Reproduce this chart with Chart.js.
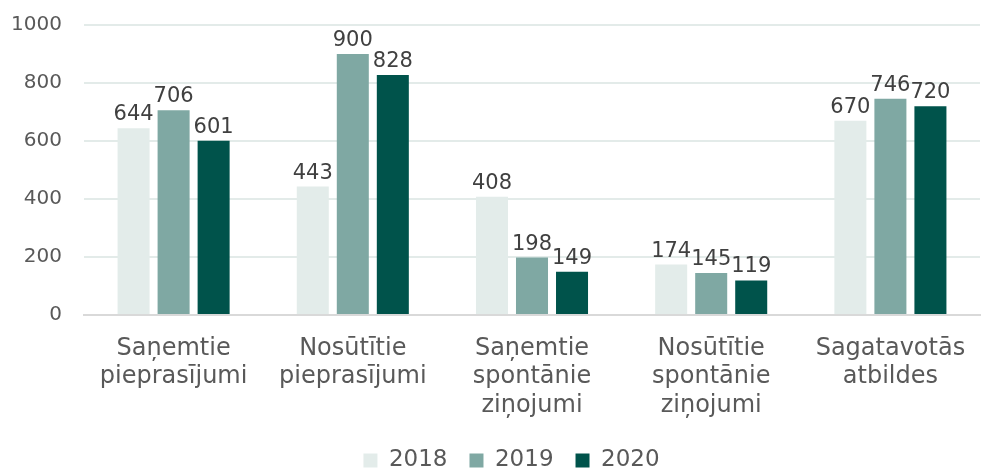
<!DOCTYPE html>
<html><head><meta charset="utf-8">
<script src="https://cdn.jsdelivr.net/npm/chart.js@4/dist/chart.umd.min.js"></script>
<style>html,body{margin:0;padding:0;background:#fff}#wrap{width:983px;height:468px}</style>
</head><body><div id="wrap"><canvas id="c" width="983" height="468"></canvas></div>
<script>
const categories = [["Saņemtie","pieprasījumi"],["Nosūtītie","pieprasījumi"],["Saņemtie","spontānie","ziņojumi"],["Nosūtītie","spontānie","ziņojumi"],["Sagatavotās","atbildes"]];
const seriesNames = ["2018","2019","2020"];
const values2018 = [644,443,408,174,670];
const values2019 = [706,900,198,145,746];
const values2020 = [601,828,149,119,720];
const colors = ["#e3ecea","#7fa8a3","#00534b"];
const FONT = "'DejaVu Sans', Verdana, sans-serif";

const labelPlugin = {
  id: 'valueLabels',
  afterDatasetsDraw(chart){
    const ctx = chart.ctx;
    ctx.save();
    ctx.font = "21px " + FONT;
    ctx.fillStyle = "#404040";
    ctx.textAlign = "center";
    ctx.textBaseline = "alphabetic";
    chart.data.datasets.forEach((ds,i)=>{
      chart.getDatasetMeta(i).data.forEach((bar,j)=>{
        ctx.fillText(String(ds.data[j]), bar.x, bar.y - 8);
      });
    });
    ctx.restore();
  }
};

const legendFitPlugin = {
  id: 'legendFit',
  afterInit(chart){
    const lg = chart.legend;
    if (!lg) return;
    const orig = lg.fit.bind(lg);
    lg.fit = function(){ orig(); this.height = 41; };
  },
  afterLayout(chart){
    const lg = chart.legend;
    if (lg) { lg.left += 17; lg.right += 17; }
  }
};

new Chart(document.getElementById('c'), {
  type: 'bar',
  data: {
    labels: categories,
    datasets: [values2018, values2019, values2020].map((d,i)=>({
      label: seriesNames[i], data: d, backgroundColor: colors[i],
      categoryPercentage: 0.67, barPercentage: 0.8
    }))
  },
  options: {
    responsive: false, animation: false,
    layout: { padding: { left: 9, right: 3, top: 25, bottom: 0 } },
    plugins: {
      legend: { position: 'bottom',
        labels: { boxWidth: 14, boxHeight: 14, padding: 22, color: '#595959', font: { family: FONT, size: 23, lineHeight: 1.0 } } },
      tooltip: { enabled: false }
    },
    scales: {
      y: { min: 0, max: 1000, ticks: { stepSize: 200, color: '#595959', padding: 22, font: { family: FONT, size: 20 }, callback: v => String(v) },
           grid: { color: '#e3ebe9', lineWidth: 2, drawTicks: false }, border: { display: false },
           afterFit: s => { s.width = 75; s.paddingTop = 0; s.paddingBottom = 0; } },
      x: { grid: { display: false }, border: { color: '#d9d9d9', width: 2 },
           ticks: { color: '#595959', padding: 11, maxRotation: 0, autoSkip: false, font: { family: FONT, size: 24, lineHeight: 1.2 } },
           afterFit: s => { s.height = 112; s.paddingLeft = 0; s.paddingRight = 0; } }
    }
  },
  plugins: [labelPlugin, legendFitPlugin]
});
</script></body></html>
